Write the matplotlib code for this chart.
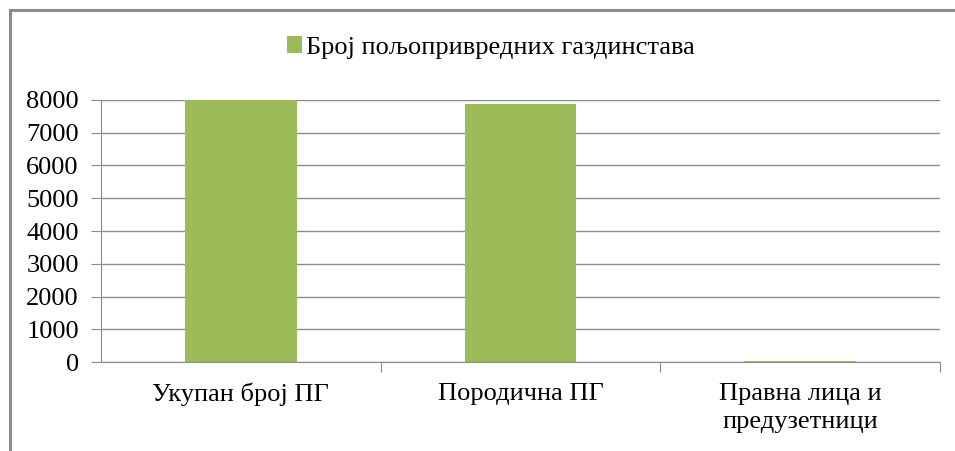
import matplotlib.pyplot as plt
from matplotlib.lines import Line2D

categories = ['Укупан број ПГ', 'Породична ПГ', 'Правна лица и\nпредузетници']
values = [8000, 7890, 45]
series_name = 'Број пољопривредних газдинстава'

plt.rcParams['font.family'] = ['Liberation Serif', 'DejaVu Serif']

fig = plt.figure(figsize=(9.55, 4.51), dpi=100)
ax = fig.add_axes([0.1058, 0.1973, 0.8785, 0.5810])

# outer frame (left and top border only visible)
fig.add_artist(Line2D([9.5 / 955, 9.5 / 955], [0, 1 - 9.5 / 451], color='#8c8c8c', lw=2.2))
fig.add_artist(Line2D([9.5 / 955, 1], [1 - 9.5 / 451, 1 - 9.5 / 451], color='#8c8c8c', lw=2.2))

x = range(len(categories))
ax.bar(x, values, width=0.4, color='#9bbb59', label=series_name, zorder=3)

ax.set_xlim(-0.5, 2.5)
ax.set_ylim(0, 8000)
ax.set_yticks(range(0, 8001, 1000))
ax.yaxis.grid(True, color='#8c8c8c', lw=1)
ax.set_axisbelow(True)

ax.set_xticks([0.5, 1.5, 2.5], minor=False)
ax.set_xticklabels([])
ax.set_xticks(list(x), minor=True)
ax.set_xticklabels(categories, minor=True, fontsize=19, linespacing=1.35)
ax.tick_params(axis='x', which='minor', length=0, pad=15)
ax.tick_params(axis='x', which='major', length=7, color='#8c8c8c')
ax.tick_params(axis='y', length=7, color='#8c8c8c', labelsize=19, pad=9)

for s in ['top', 'right']:
    ax.spines[s].set_visible(False)
for s in ['left', 'bottom']:
    ax.spines[s].set_color('#8c8c8c')

leg = fig.legend(loc='center', bbox_to_anchor=(0.514, 0.894), frameon=False,
                 fontsize=19, handlelength=0.6, handleheight=0.6, handletextpad=0.15)

fig.savefig('out.png', dpi=100)
